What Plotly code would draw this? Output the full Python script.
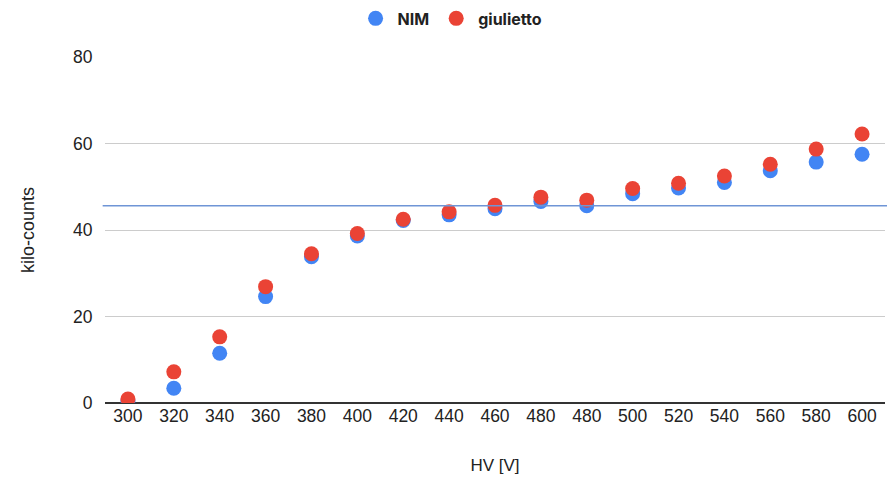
import plotly.graph_objects as go

hv_labels = ["300", "320", "340", "360", "380", "400", "420", "440", "460",
             "480", "480", "500", "520", "540", "560", "580", "600"]
nim = [0.5, 3.4, 11.5, 24.6, 33.8, 38.6, 42.2, 43.5, 44.9, 46.6, 45.6,
       48.4, 49.7, 51.0, 53.7, 55.7, 57.5]
giulietto = [0.9, 7.2, 15.3, 26.9, 34.5, 39.2, 42.5, 44.2, 45.7, 47.6, 46.9,
             49.6, 50.8, 52.5, 55.2, 58.7, 62.2]
ref_level = 45.6
y_ticks = [0, 20, 40, 60, 80]

idx = list(range(len(hv_labels)))
TXT = "#222222"
FONT = "Liberation Sans, Arial, sans-serif"

fig = go.Figure()
fig.add_trace(go.Scatter(x=idx, y=nim, mode="markers", name="NIM",
                         marker=dict(color="#4285F4", size=15, line=dict(width=0))))
fig.add_trace(go.Scatter(x=idx, y=giulietto, mode="markers", name="giulietto",
                         marker=dict(color="#EA4335", size=15, line=dict(width=0))))

fig.add_shape(type="line", xref="paper", x0=-0.003, x1=1.01, yref="y",
              y0=ref_level, y1=ref_level, line=dict(color="#6F95D6", width=1.5))

fig.update_layout(
    width=887, height=482,
    margin=dict(l=105, r=2, t=57, b=79),
    paper_bgcolor="white", plot_bgcolor="white",
    font=dict(family=FONT, size=18, color=TXT),
    legend=dict(orientation="h", xref="container", x=0.508, xanchor="center",
                yref="container", y=0.997, yanchor="top",
                font=dict(size=16, color=TXT, family="Inter, Liberation Sans, sans-serif",
                          weight="bold"),
                itemsizing="trace", itemwidth=34, bgcolor="rgba(0,0,0,0)"),
    showlegend=True,
)
fig.update_xaxes(
    tickmode="array", tickvals=idx, ticktext=hv_labels,
    range=[-0.5, len(hv_labels) - 0.5], showgrid=False, zeroline=False,
    showline=False, ticks="", tickfont=dict(size=17.5, color=TXT),
    title=dict(text="HV [V]", font=dict(size=17, color=TXT), standoff=34),
)
fig.update_yaxes(
    range=[0, 80], tickvals=y_ticks, showgrid=True, gridcolor="#CCCCCC", gridwidth=1,
    zeroline=True, zerolinecolor="#333333", zerolinewidth=1.5,
    ticks="outside", ticklen=8, tickcolor="rgba(0,0,0,0)",
    tickfont=dict(size=17.5, color=TXT),
    title=dict(text="kilo-counts", font=dict(size=18, color=TXT), standoff=33),
)

fig.write_html("out.html")
